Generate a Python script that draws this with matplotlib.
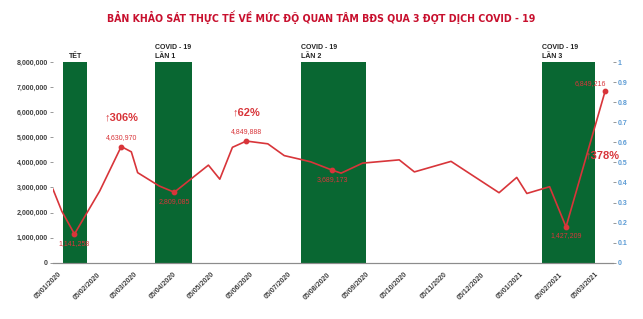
import matplotlib
matplotlib.use("Agg")
import matplotlib.pyplot as plt
import pandas as pd
import numpy as np

# ---------------- data ----------------
dates = ["2020-01-01", "2020-01-08", "2020-01-18", "2020-02-07", "2020-02-24",
         "2020-03-03", "2020-03-08", "2020-03-25", "2020-04-06", "2020-05-03",
         "2020-05-12", "2020-05-22", "2020-06-02", "2020-06-19", "2020-07-02",
         "2020-07-14", "2020-07-23", "2020-08-09", "2020-08-16", "2020-09-02",
         "2020-10-01", "2020-10-13", "2020-11-11", "2020-12-19", "2021-01-02",
         "2021-01-10", "2021-01-28", "2021-02-10", "2021-03-13"]
values = [2930000, 2050000, 1141258, 2860000, 4630970,
          4420000, 3590000, 3060000, 2809085, 3890000,
          3330000, 4600000, 4849888, 4740000, 4270000,
          4130000, 4020000, 3689173, 3570000, 3970000,
          4100000, 3620000, 4040000, 2790000, 3400000,
          2760000, 3030000, 1427209, 6849216]
labeled_idx = [2, 4, 8, 12, 17, 27, 28]
label_pos = ["below", "above", "below", "above", "below", "below", "left"]

bar_starts = ["2020-01-09", "2020-03-22", "2020-07-15", "2021-01-22"]
bar_ends = ["2020-01-28", "2020-04-20", "2020-09-05", "2021-03-05"]
bar_names = ["TẾT", "COVID - 19\nLẦN 1", "COVID - 19\nLẦN 2", "COVID - 19\nLẦN 3"]

pct_texts = ["↑306%", "↑62%", "↑378%"]
pct_idx = [4, 12, 28]

tick_dates = pd.date_range("2020-01-01", "2021-03-01", freq="MS") + pd.Timedelta(days=4)
y_ticks = [0, 1000000, 2000000, 3000000, 4000000, 5000000, 6000000, 7000000, 8000000]
y2_ticks = [0, 0.1, 0.2, 0.3, 0.4, 0.5, 0.6, 0.7, 0.8, 0.9, 1]

title = "BẢN KHẢO SÁT THỰC TẾ VỀ MỨC ĐỘ QUAN TÂM BĐS QUA 3 ĐỢT DỊCH COVID - 19"

# ---------------- style ----------------
FAM = ["Liberation Sans Narrow", "Liberation Sans", "DejaVu Sans"]
plt.rcParams["font.family"] = FAM
RED = "#d8353a"
GREEN = "#096732"
DARK = "#404040"
BLUE = "#5b9bd5"

x = pd.to_datetime(dates)
bs = pd.to_datetime(bar_starts)
be = pd.to_datetime(bar_ends)

fig = plt.figure(figsize=(6.43, 3.19), dpi=100)
ax = fig.add_axes([0.0824, 0.1765, 0.8706, 0.629])
ax2 = ax.twinx()

# bars
ax.bar(bs, height=[8000000] * len(bs), width=(be - bs).days, align="edge",
       color=GREEN, zorder=1)
for s, e, name in zip(bs, be, bar_names):
    is_covid = "COVID" in name
    ax.text(s if is_covid else s + (e - s) / 2, 8000000 * 1.012, name,
            ha="left" if is_covid else "center", va="bottom",
            fontsize=5, fontweight="bold", color="#222222", linespacing=1.25)

# line
ax.plot(x, values, color=RED, lw=1.2, zorder=3)
ax.scatter(x[labeled_idx], np.array(values)[labeled_idx], s=10, color=RED, zorder=4)

for i, pos in zip(labeled_idx, label_pos):
    txt = f"{values[i]:,}"
    if pos == "above":
        ax.annotate(txt, (x[i], values[i]), xytext=(0, 4), textcoords="offset points",
                    ha="center", va="bottom", fontsize=5, color=RED)
    elif pos == "below":
        ax.annotate(txt, (x[i], values[i]), xytext=(0, -4), textcoords="offset points",
                    ha="center", va="top", fontsize=5, color=RED)
    else:
        ax.annotate(txt, (x[i], values[i]), xytext=(-11, 3), textcoords="offset points",
                    ha="center", va="bottom", fontsize=5, color=RED)

pct_offsets = [(0, 17), (0, 17), (-2, -50)]
for t, i, off in zip(pct_texts, pct_idx, pct_offsets):
    ax.annotate(t, (x[i], values[i]), xytext=off, textcoords="offset points",
                ha="center", va="bottom", fontsize=8, fontweight="bold", color=RED)

# axes
ax.set_ylim(0, 8000000)
ax.set_xlim(pd.Timestamp("2020-01-01"), pd.Timestamp("2021-03-19"))
ax.set_yticks(y_ticks)
ax.set_yticklabels([f"{v:,}" for v in y_ticks], fontsize=5, color=DARK, fontweight="bold")
ax.set_xticks(tick_dates)
ax.set_xticklabels([d.strftime("%d/%m/%Y") for d in tick_dates], rotation=45,
                   ha="right", rotation_mode="anchor", fontsize=5, color=DARK,
                   fontweight="bold")
ax.tick_params(axis="x", length=0, pad=6)
ax.tick_params(axis="y", length=2, width=0.6, color="#888888", pad=1.5)

ax2.set_ylim(0, 1)
ax2.set_yticks(y2_ticks)
ax2.set_yticklabels([f"{v:g}" for v in y2_ticks], fontsize=5, color=BLUE, fontweight="bold")
ax2.tick_params(axis="y", length=2, width=0.6, color="#888888", pad=1.5)

for a in (ax, ax2):
    for sp in ("top", "left", "right"):
        a.spines[sp].set_visible(False)
    a.spines["bottom"].set_color("#8c8c8c")
    a.spines["bottom"].set_linewidth(0.8)

fig.text(0.5, 0.945, title, ha="center", va="center", fontsize=7.6,
         fontweight="bold", color="#c8102e", family=["DejaVu Sans"],
         fontstretch="condensed")

fig.savefig("out.png", dpi=100)
